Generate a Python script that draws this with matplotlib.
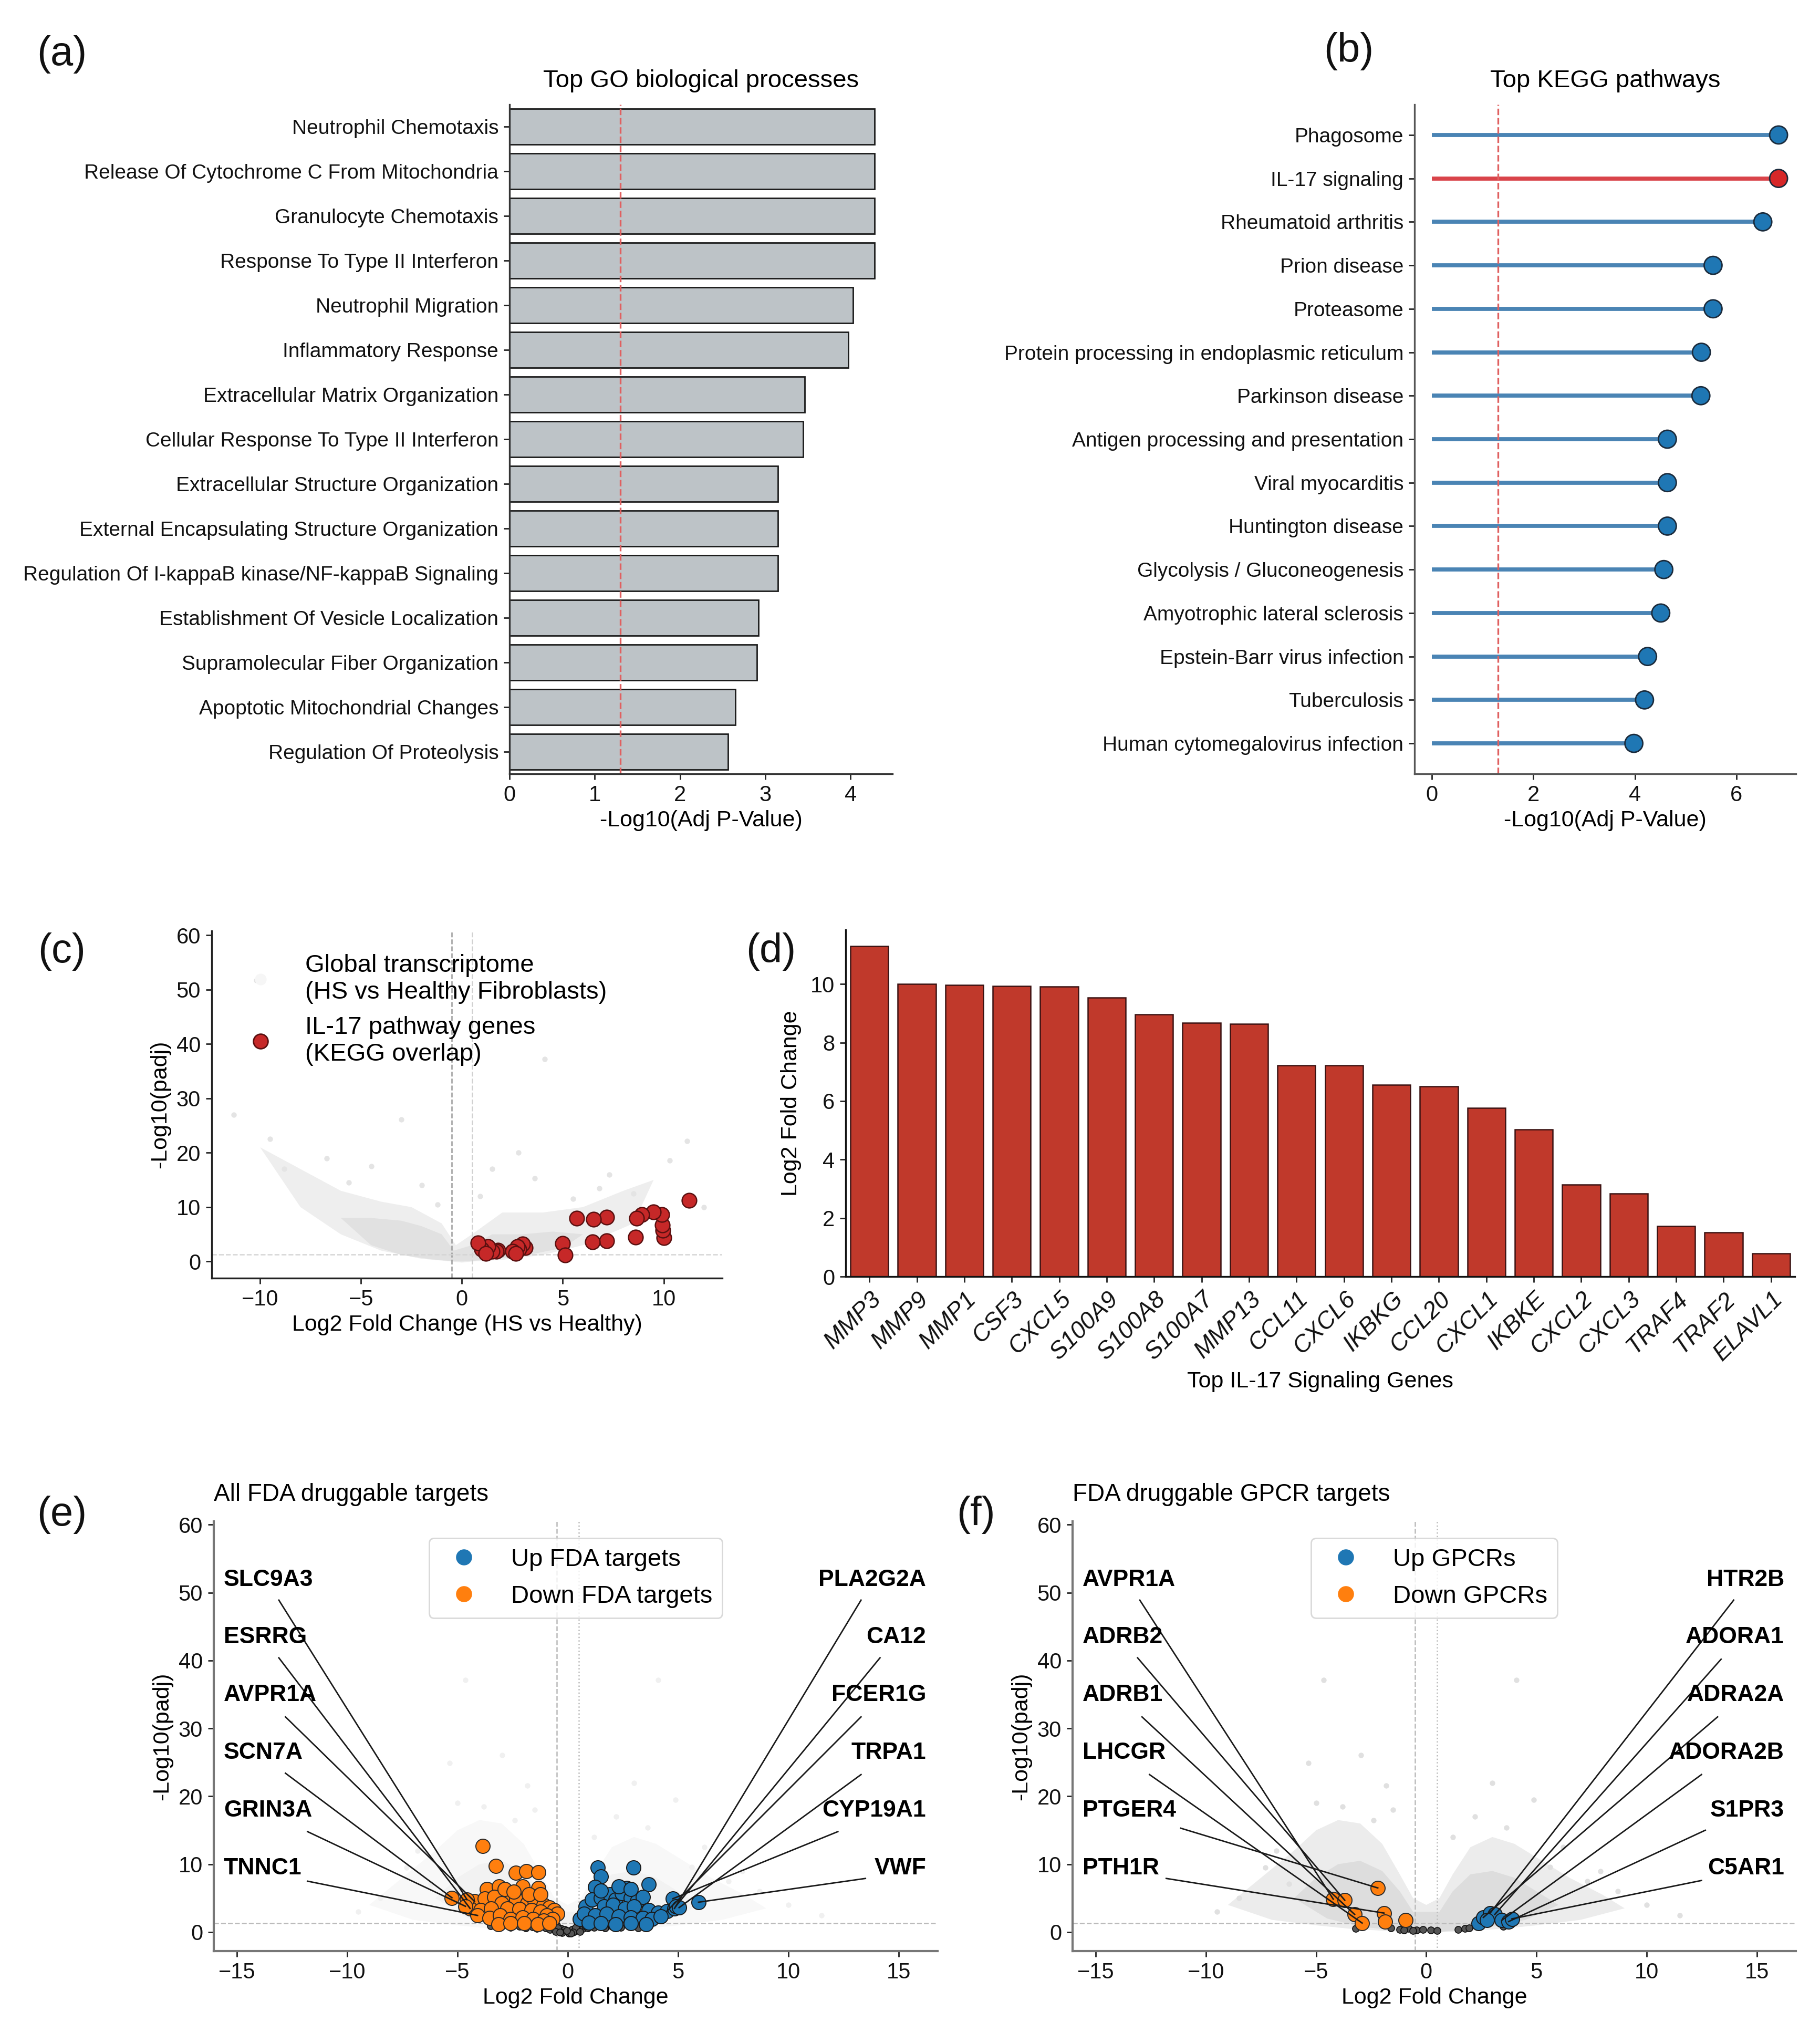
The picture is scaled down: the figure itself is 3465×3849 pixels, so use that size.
import matplotlib
matplotlib.use('Agg')
import matplotlib.pyplot as plt
import numpy as np
from matplotlib.lines import Line2D

plt.rcParams['font.family'] = ['Liberation Sans', 'DejaVu Sans']

# ---------------- DATA ----------------
go_terms = ["Neutrophil Chemotaxis", "Release Of Cytochrome C From Mitochondria",
            "Granulocyte Chemotaxis", "Response To Type II Interferon",
            "Neutrophil Migration", "Inflammatory Response",
            "Extracellular Matrix Organization", "Cellular Response To Type II Interferon",
            "Extracellular Structure Organization", "External Encapsulating Structure Organization",
            "Regulation Of I-kappaB kinase/NF-kappaB Signaling", "Establishment Of Vesicle Localization",
            "Supramolecular Fiber Organization", "Apoptotic Mitochondrial Changes",
            "Regulation Of Proteolysis"]
go_scores = [4.28, 4.28, 4.28, 4.28, 4.03, 3.97, 3.46, 3.445, 3.15, 3.15, 3.15, 2.92, 2.90, 2.65, 2.56]

kegg_terms = ["Phagosome", "IL-17 signaling", "Rheumatoid arthritis", "Prion disease", "Proteasome",
              "Protein processing in endoplasmic reticulum", "Parkinson disease",
              "Antigen processing and presentation", "Viral myocarditis", "Huntington disease",
              "Glycolysis / Gluconeogenesis", "Amyotrophic lateral sclerosis",
              "Epstein-Barr virus infection", "Tuberculosis", "Human cytomegalovirus infection"]
kegg_scores = [6.83, 6.83, 6.52, 5.54, 5.54, 5.31, 5.30, 4.64, 4.64, 4.64, 4.57, 4.51, 4.25, 4.19, 3.98]
kegg_highlight = "IL-17 signaling"

padj_threshold = 0.05
lfc_threshold = 0.5

# (c) global transcriptome: outer / inner density envelopes + sparse outliers
c_outer_x = [-10.0, -8.0, -6.0, -4.0, -2.5, -1.0, -0.3, 0.5, 2.0, 4.0, 6.0, 8.0, 9.5,
             8.5, 6.0, 4.0, 2.0, 0.5, 0.0, -0.5, -2.0, -4.0, -6.0, -8.0]
c_outer_y = [21, 17, 13, 11, 10, 7, 3, 5, 9, 9, 10, 13, 15,
             7, 3, 1.2, 0.3, 0.0, -0.2, 0.0, 0.5, 2.0, 5.0, 10.0]
c_inner_x = [-6.0, -4.5, -3.0, -2.0, -1.0, -0.4, 0.5, 1.5, 3.0, 4.5, 6.0,
             5.0, 3.0, 1.5, 0.5, 0.0, -0.6, -1.5, -3.0, -4.5]
c_inner_y = [8.0, 8.0, 7.5, 6.5, 5.0, 2.0, 3.0, 5.0, 5.0, 5.5, 5.0,
             2.5, 1.0, 0.4, 0.1, 0.0, 0.1, 0.4, 1.2, 3.0]
c_bg_lfc = [-11.3, -10.2, 4.1, -3.0, 11.15, 10.3, 3.6, -6.7, -4.5, 1.5, 6.8, 8.5, -9.5, 12.0,
            -2.0, 5.5, -8.8, 2.8, -1.2, 0.9, -5.6, 7.3]
c_bg_padj = [27.0, 51.7, 37.2, 26.1, 22.2, 18.6, 15.3, 19.0, 17.5, 17.0, 13.5, 12.5, 22.5, 10.0,
             14.0, 11.5, 17.0, 20.0, 10.5, 12.0, 14.5, 16.0]

# (c) IL-17 pathway genes (KEGG overlap)
c_il17_lfc = [11.25, 10.0, 9.95, 9.93, 9.91, 9.48, 8.92, 8.66, 8.60, 7.18, 7.18, 6.51, 6.46, 5.70,
              5.00, 5.11, 3.15, 3.00, 2.83, 2.76, 2.51, 2.67, 1.78, 1.72, 1.50, 1.30, 0.97, 0.79, 1.20]
c_il17_padj = [11.2, 4.4, 5.7, 6.7, 8.6, 9.1, 8.6, 8.0, 4.5, 8.15, 3.8, 7.76, 3.57, 8.0,
               3.3, 1.23, 2.5, 3.2, 2.3, 2.7, 1.9, 1.5, 2.1, 1.9, 1.9, 2.7, 2.3, 3.4, 1.5]

# (d) top IL-17 signaling genes
il17_genes = ["MMP3", "MMP9", "MMP1", "CSF3", "CXCL5", "S100A9", "S100A8", "S100A7", "MMP13", "CCL11",
              "CXCL6", "IKBKG", "CCL20", "CXCL1", "IKBKE", "CXCL2", "CXCL3", "TRAF4", "TRAF2", "ELAVL1"]
il17_lfc = [11.29, 10.0, 9.97, 9.93, 9.91, 9.54, 8.96, 8.68, 8.64, 7.22, 7.22, 6.56, 6.51, 5.77,
            5.03, 3.15, 2.83, 1.72, 1.50, 0.79]

# (e)/(f) background transcriptome: outer / inner envelopes + outliers
ef_outer_x = [-9.0, -7.5, -6.0, -5.0, -4.0, -3.0, -2.0, -1.2, -0.6, 0.0, 0.6, 1.2, 2.0, 3.0, 4.0,
              5.0, 6.5, 8.0, 9.0, 7.0, 5.0, 3.5, 2.0, 0.8, 0.0, -0.8, -2.0, -3.5, -5.0, -7.0]
ef_outer_y = [4.0, 8.0, 12.0, 15.0, 16.5, 16.0, 13.0, 8.5, 5.0, 4.0, 5.0, 8.5, 12.5, 14.0, 13.0,
              11.0, 8.0, 5.5, 3.5, 1.8, 1.0, 0.5, 0.2, 0.0, -0.2, 0.0, 0.2, 0.5, 1.0, 1.8]
ef_inner_x = [-6.0, -5.0, -4.0, -3.0, -2.0, -1.2, -0.6, 0.6, 1.2, 2.0, 3.0, 4.0, 5.0, 6.0,
              4.5, 3.0, 1.5, 0.5, 0.0, -0.5, -1.5, -3.0, -4.5]
ef_inner_y = [5.0, 8.0, 10.0, 10.5, 9.0, 6.0, 3.0, 3.0, 6.0, 8.5, 9.0, 8.0, 6.0, 4.0,
              1.8, 0.8, 0.3, 0.0, 0.0, 0.0, 0.3, 0.8, 2.0]
ef_bg_lfc = [-4.65, 4.1, -2.97, -5.36, -1.82, 3.63, 4.88, 5.62, 7.3, 10.0, -6.22, -8.5, -3.8, 2.2,
             6.2, 8.7, -7.3, 1.2, -2.4, -5.0, 3.0, -9.5, 11.5, -6.8, 7.9, -1.5]
ef_bg_padj = [37.1, 37.1, 26.1, 24.9, 21.6, 15.4, 19.5, 9.6, 7.5, 4.0, 7.1, 5.0, 18.5, 17.0,
              12.5, 6.0, 9.5, 14.0, 16.5, 19.0, 22.0, 3.0, 2.5, 12.0, 9.0, 18.0]

# (e) FDA druggable targets
e_down_lfc = [-3.86, -3.25, -2.35, -1.88, -1.32, -3.66, -3.11, -2.05, -1.32, -5.25, -2.59, -4.23,
              -3.75, -3.34, -3.00, -2.32, -1.84, -1.50, -1.09, -0.82, -0.61, -0.48, -4.43, -3.96,
              -3.48, -2.73, -2.18, -1.64, -1.23, -0.95, -0.68, -4.09, -3.55, -3.07, -2.59, -2.05,
              -1.57, -1.09, -3.14, -2.59, -1.98, -1.36, -0.82, -4.57, -2.86, -2.46, -1.77, -1.23,
              -4.64]
e_down_padj = [12.68, 9.74, 8.70, 8.96, 8.83, 6.35, 6.74, 6.74, 6.48, 5.05, 5.57, 4.53,
               4.92, 5.18, 4.27, 4.79, 4.27, 4.53, 4.00, 3.62, 3.23, 2.71, 3.49, 3.23,
               3.49, 3.49, 3.36, 3.23, 2.97, 2.45, 1.93, 2.45, 2.06, 2.45, 1.93, 2.19,
               1.93, 1.67, 1.15, 1.28, 1.28, 1.15, 1.28, 4.79, 6.35, 5.96, 5.57, 5.57,
               3.80]
e_up_lfc = [1.36, 2.97, 1.50, 3.68, 1.23, 2.66, 4.77, 5.93, 0.82, 0.55, 0.75, 1.09, 1.50, 1.91,
            2.18, 2.46, 2.86, 3.14, 3.41, 1.64, 2.05, 2.59, 3.00, 3.68, 4.09, 4.50, 4.84, 1.23,
            1.77, 2.32, 2.86, 3.41, 3.82, 4.23, 0.95, 1.50, 2.18, 2.86, 3.55, 2.32, 1.50, 2.86,
            4.90, 5.05]
e_up_padj = [9.48, 9.48, 8.18, 7.00, 6.61, 6.48, 4.92, 4.40, 3.75, 1.93, 2.71, 4.79, 5.05, 5.57,
             4.79, 5.70, 5.05, 4.53, 5.18, 3.75, 4.00, 3.49, 3.75, 3.23, 2.84, 3.10, 3.49, 2.45,
             2.71, 2.32, 2.19, 2.06, 1.93, 2.32, 1.41, 1.28, 1.15, 1.28, 1.15, 6.74, 6.09, 6.35,
             3.80, 3.60]
e_ns_lfc = [-3.5, -3.0, -2.6, -2.2, -1.9, -1.6, -1.4, -1.2, -1.0, -0.9, -0.8, -0.7, -0.6, -0.5,
            -0.4, -0.3, -0.2, -0.1, 0.0, 0.1, 0.2, 0.3, 0.4, 0.5, 0.6, 0.7, 0.8, 0.9, 1.0, 1.2,
            1.4, 1.7, 2.0, 2.4, 2.8, 3.2, 3.6, -0.45, 0.35, -0.15, -2.0, -1.1, 1.1, 2.2,
            -0.25, 0.05, 0.25, -0.55, 0.55, -0.35, 0.15, -0.05]
e_ns_padj = [0.9, 0.8, 0.7, 0.85, 0.6, 0.75, 0.5, 0.9, 0.6, 1.1, 0.4, 0.8, 0.3, 1.0,
             0.2, 0.5, 0.1, 0.3, 0.05, 0.15, 0.35, 0.1, 0.5, 0.3, 0.8, 0.5, 0.9, 0.6, 1.0, 0.7,
             0.9, 0.6, 0.8, 0.7, 0.9, 0.6, 0.8, 0.6, 0.7, 0.4, 1.1, 1.2, 1.15, 1.05,
             -0.1, -0.2, 0.0, 0.1, 0.05, -0.05, -0.15, 0.2]
e_label_left = ["SLC9A3", "ESRRG", "AVPR1A", "SCN7A", "GRIN3A", "TNNC1"]
e_label_left_lfc = [-4.57, -4.43, -4.23, -5.25, -4.64, -4.09]
e_label_left_padj = [4.79, 3.49, 4.53, 5.05, 3.80, 2.45]
e_label_right = ["PLA2G2A", "CA12", "FCER1G", "TRPA1", "CYP19A1", "VWF"]
e_label_right_lfc = [4.84, 4.90, 4.50, 5.05, 4.77, 5.93]
e_label_right_padj = [3.49, 3.80, 3.10, 3.60, 4.92, 4.40]

# (f) FDA druggable GPCR targets
f_down_lfc = [-4.22, -3.70, -3.25, -2.91, -2.20, -1.92, -1.86, -0.94]
f_down_padj = [4.85, 4.70, 2.60, 1.33, 6.50, 2.80, 1.55, 1.75]
f_up_lfc = [2.37, 2.59, 2.90, 3.11, 3.43, 3.74, 3.89, 2.76]
f_up_padj = [1.33, 2.16, 2.80, 2.60, 1.75, 1.55, 1.95, 1.75]
f_ns_lfc = [-3.2, -1.6, -1.2, -0.8, -0.45, -0.15, 0.2, 0.5, 1.45, 1.75, 1.95, 3.5, -1.0, -0.6]
f_ns_padj = [0.5, 0.6, 0.4, 0.5, 0.3, 0.35, 0.3, 0.25, 0.4, 0.5, 0.6, 0.8, 0.3, 0.2]
f_label_left = ["AVPR1A", "ADRB2", "ADRB1", "LHCGR", "PTGER4", "PTH1R"]
f_label_left_lfc = [-4.22, -3.70, -3.25, -2.91, -2.20, -1.92]
f_label_left_padj = [4.85, 4.70, 2.60, 1.33, 6.50, 2.80]
f_label_right = ["HTR2B", "ADORA1", "ADRA2A", "ADORA2B", "S1PR3", "C5AR1"]
f_label_right_lfc = [2.90, 3.11, 2.59, 3.43, 3.74, 3.89]
f_label_right_padj = [2.80, 2.60, 2.16, 1.75, 1.55, 1.95]

# ---------------- LAYOUT ----------------
W, H = 3466, 3849
fig = plt.figure(figsize=(W / 200, H / 200), dpi=200)


def rect(x0, y0, x1, y1):
    return [x0 / W, 1 - y1 / H, (x1 - x0) / W, (y1 - y0) / H]


def style(ax, color='#333333', lw=1.2, size=15):
    for s in ['top', 'right']:
        ax.spines[s].set_visible(False)
    for s in ['left', 'bottom']:
        ax.spines[s].set_color(color)
        ax.spines[s].set_linewidth(lw)
    ax.tick_params(colors='#222222', labelcolor='#111111', length=4, width=1, labelsize=size)


def panel_label(x, y, s):
    fig.text(x / W, 1 - y / H, s, fontsize=28, ha='center', va='center', color='#111111')


sig_y = -np.log10(padj_threshold)

# ---- (a) GO bars ----
ax = fig.add_axes(rect(970, 199, 1699, 1473))
ypos = np.arange(len(go_terms))
ax.barh(ypos, go_scores, height=0.8, color='#bdc3c7', edgecolor='#1a1a1a', linewidth=1.0)
ax.axvline(sig_y, color='#e06060', ls='--', lw=1.2)
ax.set_yticks(ypos)
ax.set_yticklabels(go_terms)
ax.set_ylim(len(go_terms) - 0.5, -0.5)
ax.set_xlim(0, 4.49)
ax.set_xticks([0, 1, 2, 3, 4])
style(ax, size=14)
ax.tick_params(axis='x', labelsize=15)
ax.set_xlabel('-Log10(Adj P-Value)', fontsize=15.5, labelpad=3)
ax.set_title('Top GO biological processes', fontsize=17, pad=12)
panel_label(118, 103, '(a)')

# ---- (b) KEGG lollipop ----
ax = fig.add_axes(rect(2693, 199, 3419, 1473))
ypos = np.arange(len(kegg_terms))
lcol = ['#d9444a' if t == kegg_highlight else '#4a84b4' for t in kegg_terms]
dcol = ['#d62728' if t == kegg_highlight else '#1f77b4' for t in kegg_terms]
ax.hlines(ypos, 0, kegg_scores, colors=lcol, lw=2.8)
ax.scatter(kegg_scores, ypos, s=150, c=dcol, edgecolors='#1b2b3c', linewidths=1.0, zorder=3)
ax.axvline(sig_y, color='#e06060', ls='--', lw=1.2)
ax.set_yticks(ypos)
ax.set_yticklabels(kegg_terms)
ax.set_ylim(14.7, -0.7)
ax.set_xlim(-0.34, 7.17)
ax.set_xticks([0, 2, 4, 6])
style(ax, color='#555555', size=14)
ax.tick_params(axis='x', labelsize=15)
ax.set_xlabel('-Log10(Adj P-Value)', fontsize=15.5, labelpad=3)
ax.set_title('Top KEGG pathways', fontsize=17, pad=12)
panel_label(2568, 98, '(b)')

# ---- (c) volcano IL-17 ----
ax = fig.add_axes(rect(403, 1772, 1375, 2433))
ax.fill(c_outer_x, c_outer_y, color='#eeeeee', lw=0, zorder=1)
ax.fill(c_inner_x, c_inner_y, color='#e1e1e1', lw=0, zorder=1)
ax.scatter(c_bg_lfc, c_bg_padj, s=14, color='#e4e4e4', lw=0, zorder=1)
ax.axvline(-lfc_threshold, color='#9a9a9a', ls='--', lw=0.9, zorder=2)
ax.axvline(lfc_threshold, color='#d0d0d0', ls='--', lw=0.9, zorder=2)
ax.axhline(sig_y, color='#d5d5d5', ls='--', lw=0.9, zorder=2)
ax.scatter(c_il17_lfc, c_il17_padj, s=100, color='#c62828', edgecolors='#5a1010', linewidths=0.9, zorder=3)
ax.set_xlim(-12.4, 12.9)
ax.set_ylim(-3.06, 60.8)
ax.set_xticks([-10, -5, 0, 5, 10])
ax.set_yticks([0, 10, 20, 30, 40, 50, 60])
style(ax, color='#222222', size=15)
ax.set_xlabel('Log2 Fold Change (HS vs Healthy)', fontsize=15.5, labelpad=3)
ax.set_ylabel('-Log10(padj)', fontsize=15.5, labelpad=4)
h1 = Line2D([], [], marker='o', ls='', color='#f6f6f6', markersize=7)
h2 = Line2D([], [], marker='o', ls='', markerfacecolor='#c62828', markeredgecolor='#5a1010', markersize=10)
ax.legend([h1, h2], ['Global transcriptome\n(HS vs Healthy Fibroblasts)', 'IL-17 pathway genes\n(KEGG overlap)'],
          loc='upper left', bbox_to_anchor=(0.028, 0.962), frameon=False, fontsize=17,
          handletextpad=0.8, labelspacing=0.5, borderaxespad=0)
panel_label(118, 1812, '(c)')

# ---- (d) IL-17 genes bar ----
ax = fig.add_axes(rect(1610, 1770, 3417, 2430))
xpos = np.arange(len(il17_genes))
ax.bar(xpos, il17_lfc, width=0.8, color='#c0392b', edgecolor='#3a1212', linewidth=0.9)
ax.set_xlim(-0.5, len(il17_genes) - 0.5)
ax.set_ylim(0, max(il17_lfc) * 1.05)
ax.set_xticks(xpos)
ax.set_xticklabels(il17_genes, rotation=45, ha='right', rotation_mode='anchor', fontstyle='italic')
ax.set_yticks([0, 2, 4, 6, 8, 10])
style(ax, color='#111111', size=15)
ax.tick_params(axis='x', labelsize=16.5)
ax.set_xlabel('Top IL-17 Signaling Genes', fontsize=15.5, labelpad=4)
ax.set_ylabel('Log2 Fold Change', fontsize=15.5, labelpad=6)
panel_label(1468, 1812, '(d)')


# ---- (e)/(f) druggable volcanoes ----
def volcano(ax, outer_col, inner_col, pt_col, up_lfc, up_padj, down_lfc, down_padj, ns_lfc, ns_padj,
            left, left_lfc, left_padj, right, right_lfc, right_padj,
            left_starts, right_starts, up_name, down_name, title):
    ax.fill(ef_outer_x, ef_outer_y, color=outer_col, lw=0, zorder=1)
    ax.fill(ef_inner_x, ef_inner_y, color=inner_col, lw=0, zorder=1)
    ax.scatter(ef_bg_lfc, ef_bg_padj, s=14, color=pt_col, lw=0, zorder=1)
    ax.axvline(-lfc_threshold, color='#bbbbbb', ls='--', lw=0.9, zorder=1)
    ax.axvline(lfc_threshold, color='#bbbbbb', ls=':', lw=0.9, zorder=1)
    ax.axhline(sig_y, color='#bbbbbb', ls='--', lw=0.9, zorder=1)
    ax.scatter(ns_lfc, ns_padj, s=22, color='#555555', edgecolors='#111111', linewidths=0.6, zorder=2)
    ax.scatter(down_lfc, down_padj, s=95, color='#ff7f0e', edgecolors='#2a2a2a', linewidths=0.7, zorder=3)
    ax.scatter(up_lfc, up_padj, s=95, color='#1f77b4', edgecolors='#1a1a1a', linewidths=0.7, zorder=3)
    label_ys = [51.9, 43.4, 34.9, 26.4, 17.9, 9.4]
    for g, x, y, ly, st in zip(left, left_lfc, left_padj, label_ys, left_starts):
        ax.text(-15.6, ly, g, fontsize=16, fontweight='bold', ha='left', va='center', zorder=5)
        ax.plot([st[0], x], [st[1], y], color='#1a1a1a', lw=1.0, zorder=4)
    for g, x, y, ly, st in zip(right, right_lfc, right_padj, label_ys, right_starts):
        ax.text(16.25, ly, g, fontsize=16, fontweight='bold', ha='right', va='center', zorder=5)
        ax.plot([st[0], x], [st[1], y], color='#1a1a1a', lw=1.0, zorder=4)
    ax.set_xlim(-16.05, 16.77)
    ax.set_ylim(-2.8, 60.5)
    ax.set_xticks([-15, -10, -5, 0, 5, 10, 15])
    ax.set_yticks([0, 10, 20, 30, 40, 50, 60])
    style(ax, color='#777777', lw=1.5, size=15)
    ax.set_xlabel('Log2 Fold Change', fontsize=15.5, labelpad=3)
    ax.set_ylabel('-Log10(padj)', fontsize=15.5, labelpad=4)
    ax.set_title(title, fontsize=16.5, loc='left', pad=14)
    hu = Line2D([], [], marker='o', ls='', color='#1f77b4', markersize=10)
    hd = Line2D([], [], marker='o', ls='', color='#ff7f0e', markersize=10)
    leg = ax.legend([hu, hd], [up_name, down_name], loc='upper center', bbox_to_anchor=(0.5, 0.99),
                    fontsize=17, frameon=True, handletextpad=0.9, labelspacing=0.55, borderpad=0.4)
    leg.get_frame().set_edgecolor('#d0d0d0')
    leg.get_frame().set_linewidth(1.0)


ax = fig.add_axes(rect(407, 2896, 1785, 3714))
volcano(ax, '#f8f8f8', '#f2f2f2', '#f0f0f0',
        e_up_lfc, e_up_padj, e_down_lfc, e_down_padj, e_ns_lfc, e_ns_padj,
        e_label_left, e_label_left_lfc, e_label_left_padj,
        e_label_right, e_label_right_lfc, e_label_right_padj,
        [(-13.1, 48.9), (-13.1, 40.4), (-12.8, 31.7), (-12.8, 23.4), (-11.8, 14.8), (-11.8, 7.5)],
        [(13.3, 48.9), (14.16, 40.4), (13.3, 31.7), (13.3, 23.2), (12.25, 14.8), (13.5, 7.9)],
        'Up FDA targets', 'Down FDA targets', 'All FDA druggable targets')
panel_label(118, 2884, '(e)')

ax = fig.add_axes(rect(2042, 2896, 3419, 3714))
volcano(ax, '#ececec', '#dddddd', '#e0e0e0',
        f_up_lfc, f_up_padj, f_down_lfc, f_down_padj, f_ns_lfc, f_ns_padj,
        f_label_left, f_label_left_lfc, f_label_left_padj,
        f_label_right, f_label_right_lfc, f_label_right_padj,
        [(-13.0, 48.9), (-13.1, 40.4), (-12.9, 31.7), (-12.56, 23.2), (-11.14, 15.3), (-11.8, 7.9)],
        [(13.95, 48.9), (13.38, 40.2), (13.22, 31.7), (12.49, 23.2), (12.66, 15.0), (12.49, 7.6)],
        'Up GPCRs', 'Down GPCRs', 'FDA druggable GPCR targets')
panel_label(1858, 2884, '(f)')

fig.savefig('out.png', dpi=200)
